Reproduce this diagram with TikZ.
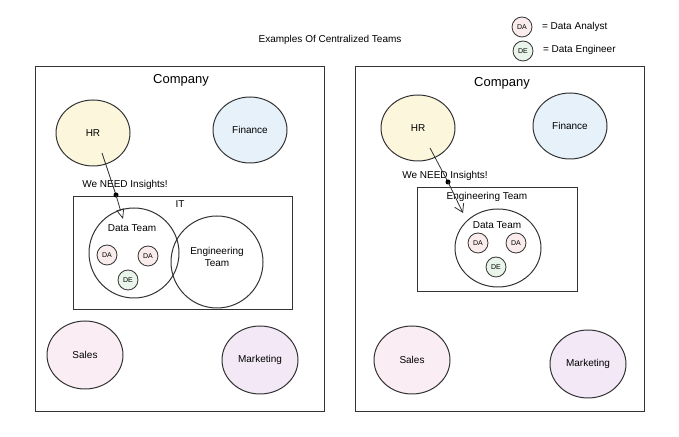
\documentclass[tikz,border=0pt]{standalone}
\usepackage{fontspec}
\setmainfont{Liberation Sans}
\usetikzlibrary{arrows.meta}
\definecolor{hry}{HTML}{FCF7DC}
\definecolor{fin}{HTML}{E6F1F9}
\definecolor{sal}{HTML}{FAEDF3}
\definecolor{mkt}{HTML}{F3E8F6}
\definecolor{dac}{HTML}{FAECEC}
\definecolor{dec}{HTML}{E9F5EB}
\begin{document}
\begin{tikzpicture}[x=0.5pt,y=-0.5pt,
  lbl/.style={font=\fontsize{5}{6}\selectfont},
  box/.style={draw=black!80,line width=0.5pt},
  small/.style={circle,draw=black!80,line width=0.4pt,minimum size=10pt,inner sep=0pt,font=\fontsize{3.5}{4}\selectfont},
  conn/.style={draw=black!80,line width=0.4pt}]
\useasboundingbox (0,0) rectangle (679,437);
\node[lbl] (title) at (330,40) {Examples Of Centralized Teams};
\node[small,fill=dac] (lda) at (522,27) {DA};
\node[lbl,anchor=west] (lda2) at (535,27) {= Data Analyst};
\node[small,fill=dec] (lde) at (523,51) {DE};
\node[lbl,anchor=west] (lde2) at (536,50) {= Data Engineer};
% left
\draw[box] (35,67) rectangle (324,412);
\node[font=\fontsize{6.5}{8}\selectfont] (c1) at (181,80) {Company};
\draw[box,fill=hry] (93,133) ellipse (37 and 33); \node[lbl] (hr1) at (93,133) {HR};
\draw[box,fill=fin] (250,130) ellipse (37 and 33); \node[lbl] (fi1) at (250,130) {Finance};
\draw[box,fill=sal] (85,355) ellipse (38 and 34); \node[lbl] (sa1) at (85,355) {Sales};
\draw[box,fill=mkt] (260,360) ellipse (38 and 34); \node[lbl] (mk1) at (260,360) {Marketing};
\draw[box] (73,197) rectangle (292,310);
\node[lbl] (it) at (180,204) {IT};
\draw[box] (134,253) circle (45);
\draw[box] (217,262) circle (46);
\node[lbl] (dt1) at (132,228) {Data Team};
\node[lbl,align=center] (et1) at (217,257) {Engineering\\Team};
\node[small,fill=dac] (a1) at (107,255) {DA};
\node[small,fill=dac] (a2) at (148,256) {DA};
\node[small,fill=dec] (e1) at (128,280) {DE};
\node[lbl] (we1) at (125,185) {We NEED Insights!};
\coordinate (s1) at (102,153); \coordinate (d1) at (116,195); \coordinate (t1) at (123,219);
\draw[conn] (s1) -- (d1);
\fill (d1) circle (2.5);
\draw[conn,-{Triangle[open,length=5pt,width=4pt]}] (d1) -- (t1);
% right
\draw[box] (355,67) rectangle (644,412);
\node[font=\fontsize{6.5}{8}\selectfont] (c2) at (502,83) {Company};
\draw[box,fill=hry] (418,128) ellipse (37 and 33); \node[lbl] (hr2) at (418,128) {HR};
\draw[box,fill=fin] (570,126) ellipse (37 and 33); \node[lbl] (fi2) at (570,126) {Finance};
\draw[box,fill=sal] (412,360) ellipse (38 and 34); \node[lbl] (sa2) at (412,360) {Sales};
\draw[box,fill=mkt] (588,364) ellipse (38 and 34); \node[lbl] (mk2) at (588,364) {Marketing};
\draw[box] (417,188) rectangle (577,292);
\node[lbl] (et2) at (487,197) {Engineering Team};
\draw[box] (498,248) ellipse (43 and 39);
\node[lbl] (dt2) at (497,225) {Data Team};
\node[small,fill=dac] (a3) at (478,243) {DA};
\node[small,fill=dac] (a4) at (516,243) {DA};
\node[small,fill=dec] (e2) at (496,267) {DE};
\node[lbl] (we2) at (445,176) {We NEED Insights!};
\coordinate (s2) at (430,148); \coordinate (d2) at (448,182); \coordinate (t2) at (463,213);
\draw[conn] (s2) -- (d2);
\fill (d2) circle (2.5);
\draw[conn,-{Straight Barb[length=4pt,width=5pt]}] (d2) -- (t2);
\end{tikzpicture}
\end{document}
